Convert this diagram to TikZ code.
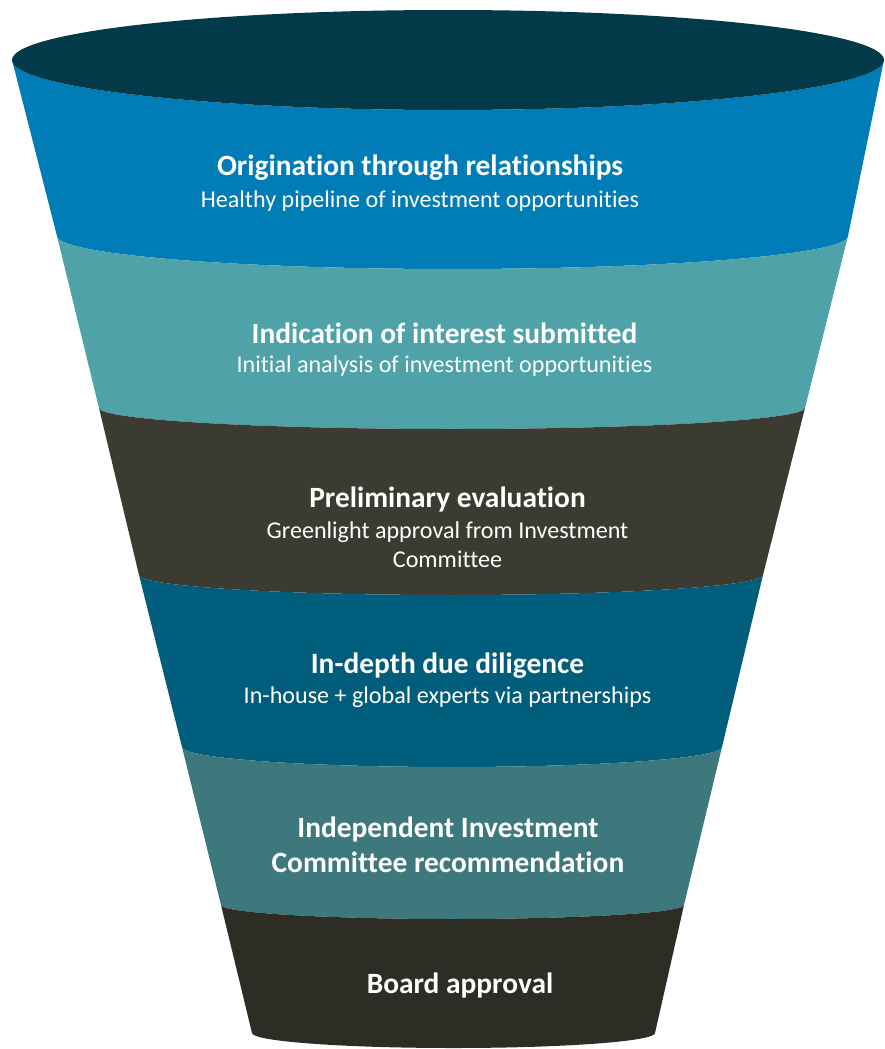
\documentclass[tikz,border=0pt]{standalone}
\usepackage{fontspec}
\setmainfont{Carlito}[Ligatures=NoCommon]
\definecolor{ctop}{HTML}{033A4A}
\definecolor{cb1}{HTML}{007DB6}
\definecolor{cb2}{HTML}{4EA2A8}
\definecolor{cb3}{HTML}{3C3B31}
\definecolor{cb4}{HTML}{005D7B}
\definecolor{cb5}{HTML}{3D787D}
\definecolor{cb6}{HTML}{2E2D25}
\begin{document}
\begin{tikzpicture}[x=1pt,y=-1pt,
  ttl/.style={text=white,font=\fontsize{29.4}{35}\selectfont\bfseries,anchor=base,inner sep=0pt},
  sub/.style={text=white,font=\fontsize{24.1}{29}\selectfont,anchor=base,inner sep=0pt}]
\useasboundingbox (0,0) rectangle (884,1049);
% bands: top arc (lower half) then side, bottom arc back, cycle
\fill[cb1] (12,60) arc[start angle=180,end angle=0,x radius=436,y radius=50]
  -- (848,236) arc[start angle=0,end angle=180,x radius=395.5,y radius=33] -- cycle;
\fill[cb2] (57,236) arc[start angle=180,end angle=0,x radius=395.5,y radius=33]
  -- (805,408) arc[start angle=0,end angle=180,x radius=353,y radius=21] -- cycle;
\fill[cb3] (99,408) arc[start angle=180,end angle=0,x radius=353,y radius=21]
  -- (763,575) arc[start angle=0,end angle=180,x radius=312,y radius=20] -- cycle;
\fill[cb4] (139,575) arc[start angle=180,end angle=0,x radius=312,y radius=20]
  -- (722,747) arc[start angle=0,end angle=180,x radius=270,y radius=20] -- cycle;
\fill[cb5] (182,747) arc[start angle=180,end angle=0,x radius=270,y radius=20]
  -- (684,905) arc[start angle=0,end angle=180,x radius=231.5,y radius=14] -- cycle;
\fill[cb6] (221,905) arc[start angle=180,end angle=0,x radius=231.5,y radius=14]
  -- (655,1033) arc[start angle=0,end angle=180,x radius=201.5,y radius=15] -- cycle;
% top opening
\fill[ctop] (448,60) ellipse[x radius=436,y radius=50];
% texts
\node[ttl] (t1) at (420,175) {Origination through relationships};
\node[sub] (s1) at (420,207) {Healthy pipeline of investment opportunities};
\node[ttl] (t2) at (444.5,343) {Indication of interest submitted};
\node[sub] (s2) at (444.5,372) {Initial analysis of investment opportunities};
\node[ttl] (t3) at (447.5,507) {Preliminary evaluation};
\node[sub] (s3a) at (447.5,538) {Greenlight approval from Investment};
\node[sub] (s3b) at (447.5,567) {Committee};
\node[ttl] (t4) at (447.5,673) {In-depth due diligence};
\node[sub] (s4) at (447.5,703) {In-house + global experts via partnerships};
\node[ttl] (t5a) at (448,837) {Independent Investment};
\node[ttl] (t5b) at (448,872) {Committee recommendation};
\node[ttl] (t6) at (460,993) {Board approval};
\end{tikzpicture}
\end{document}
